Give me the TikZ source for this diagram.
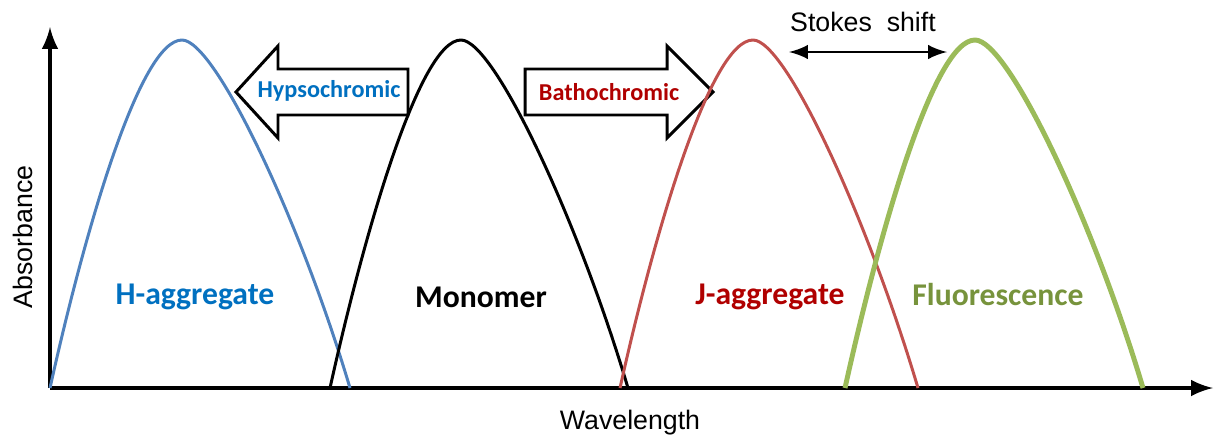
\documentclass[tikz,border=0pt]{standalone}
\usepackage{fontspec}
\setmainfont{Carlito}
\newfontfamily\arialfont{Liberation Sans}
\usepackage{tikz}
\usepackage{xcolor}
\definecolor{hcurve}{HTML}{4F81BD}
\definecolor{htext}{HTML}{0070C0}
\definecolor{jcurve}{HTML}{C0504D}
\definecolor{jtext}{HTML}{B00000}
\definecolor{fcurve}{HTML}{9BBB59}
\definecolor{ftext}{HTML}{77933C}

\begin{document}
\begin{tikzpicture}[x=0.01cm, y=-0.01cm,
    band/.style={line width=0.85pt, line join=round},
    bandlabel/.style={font=\fontsize{9}{10}\selectfont\bfseries},
    shiftlabel/.style={font=\fontsize{6.9}{8}\selectfont\bfseries},
    axislabel/.style={font=\arialfont\fontsize{7.6}{9}\selectfont},
    blockarrow/.style={draw, line width=0.85pt, line join=miter, fill=white}]
     \useasboundingbox (0,0) rectangle (1215,436);

     % shift arrows
     \draw[blockarrow] (236,92) -- (278,46) -- (278,69) -- (408,69) -- (408,115)
       -- (278,115) -- (278,138) -- cycle;
     \node[shiftlabel, text=htext] (hypso) at (329,91) {Hypsochromic};
     \draw[blockarrow] (525,69) -- (667,69) -- (667,46) -- (713,92) -- (667,138)
       -- (667,115) -- (525,115) -- cycle;
     \node[shiftlabel, text=jtext] (batho) at (609,92) {Bathochromic};

     % axes
     \coordinate (origin) at (50,388);
     \coordinate (ytop) at (50,27);
     \coordinate (xend) at (1213,388);
     \draw[line width=1.15pt, -latex] (origin) -- (ytop);
     \draw[line width=1.15pt, -latex] (origin) -- (xend);
     \node[axislabel, rotate=90] (absorb) at (23,237) {Absorbance};
     \node[axislabel] (wave) at (630,423) {Wavelength};

     % absorption / emission bands
     \draw[band, hcurve] (50,388) .. controls (85,230) and (140,40) .. (182,40)
       .. controls (215,40) and (300,220) .. (350,388);
     \draw[band, black] (330,388) .. controls (365,230) and (420,40) .. (461,40)
       .. controls (494,40) and (578,220) .. (628,388);
     \draw[band, jcurve] (620,388) .. controls (655,230) and (711,40) .. (753,40)
       .. controls (786,40) and (868,220) .. (918,388);
     \draw[band, fcurve, line width=1.4pt] (845,388) .. controls (880,230) and (934,40) .. (975,40)
       .. controls (1008,40) and (1093,220) .. (1143,388);

     \node[bandlabel, text=htext] (hagg) at (195,297) {H-aggregate};
     \node[bandlabel, text=black] (mono) at (481,297) {Monomer};
     \node[bandlabel, text=jtext] (jagg) at (770,297) {J-aggregate};
     \node[bandlabel, text=ftext] (fluo) at (998,295) {Fluorescence};

     % Stokes shift
     \coordinate (stokesL) at (789,52);
     \coordinate (stokesR) at (947,52);
     \draw[line width=0.85pt, latex-latex] (stokesL) -- (stokesR);
     \node[axislabel] (stokes) at (863,22) {Stokes\ \ shift};
   \end{tikzpicture}
\end{document}
